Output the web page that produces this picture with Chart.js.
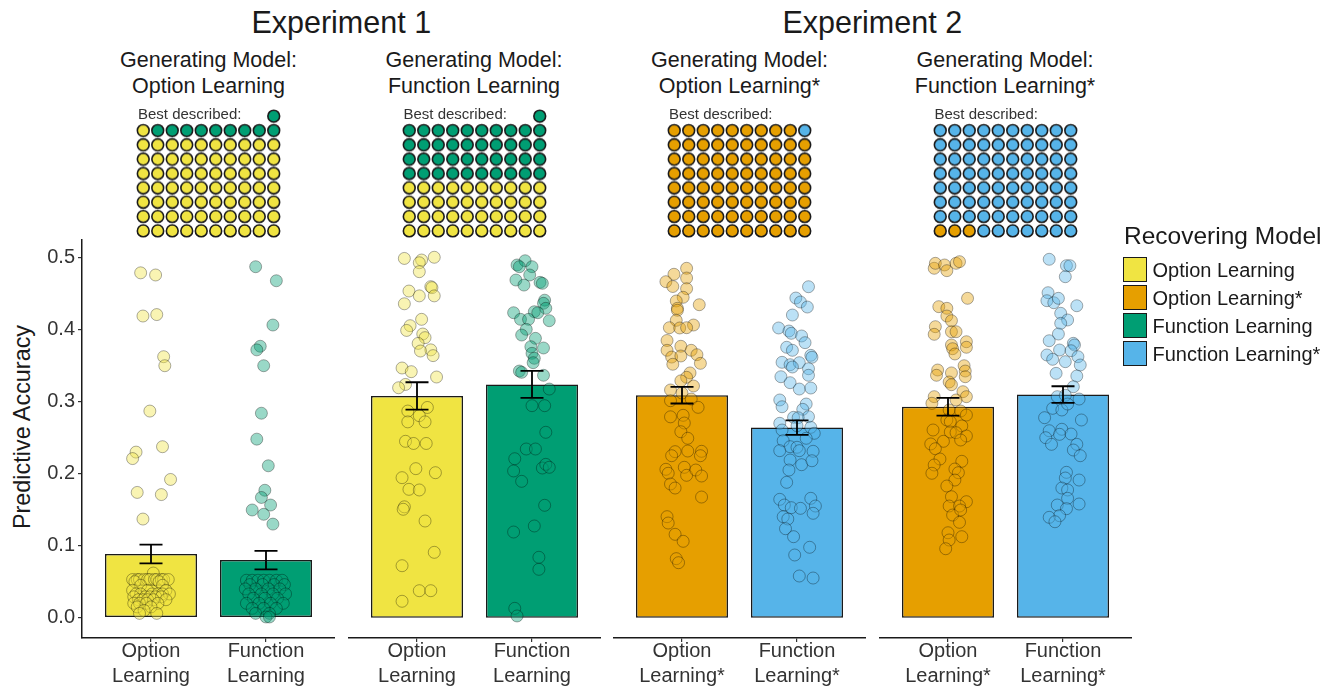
<!DOCTYPE html>
<html>
<head>
<meta charset="utf-8">
<script src="https://cdn.jsdelivr.net/npm/chart.js@4.4.1/dist/chart.umd.min.js"></script>
<style>
  html, body { margin: 0; padding: 0; background: #fff; }
  #page { position: relative; width: 1331px; height: 688px; overflow: hidden;
          font-family: "Liberation Sans", Arial, sans-serif; color: #1a1a1a; }
  #page canvas { position: absolute; }
  .txt { position: absolute; white-space: nowrap; line-height: 1; transform: translate(-50%, -50%); }
  .left { transform: translate(0, -50%); }
  .key { position: absolute; width: 22px; height: 23px; border: 1.3px solid #1a1a1a; }
</style>
</head>
<body>
<div id="page"></div>
<script>
// ---------- data ----------
const experiments = ['Experiment 1', 'Experiment 2'];
const generatingModels = ['Option Learning', 'Function Learning', 'Option Learning*', 'Function Learning*'];
const recoveringTicks = [
  [['Option', 'Learning'], ['Function', 'Learning']],
  [['Option', 'Learning'], ['Function', 'Learning']],
  [['Option', 'Learning*'], ['Function', 'Learning*']],
  [['Option', 'Learning*'], ['Function', 'Learning*']]
];
const legendLabels = ['Option Learning', 'Option Learning*', 'Function Learning', 'Function Learning*'];
const yTicks = [0, 0.1, 0.2, 0.3, 0.4, 0.5];

// mean predictive accuracy and standard error, [option, function] per panel
const meanAccuracy = [[0.0885, 0.080], [0.308, 0.324], [0.309, 0.264], [0.293, 0.310]];
const seAccuracy   = [[0.013, 0.0128], [0.019, 0.0188], [0.0115, 0.010], [0.0122, 0.0115]];

// how many simulated participants each recovering model describes best
const bestOptionCount   = [71, 40, 79, 3];
const bestFunctionCount = [10, 41, 1, 77];

// individual participants: [accuracy, horizontal jitter in category units]
const p1Option = [
  [0.479,-0.09],[0.476,0.04],[0.419,-0.07],[0.421,0.05],[0.3625,0.11],[0.350,0.12],[0.287,-0.01],
  [0.230,-0.13],[0.221,-0.16],[0.2375,0.10],[0.192,0.17],[0.174,-0.12],[0.171,0.09],[0.137,-0.07],
  [0.062,0.02],
  [0.053,-0.16],[0.053,-0.12],[0.053,-0.10],[0.053,-0.06],[0.053,-0.03],[0.053,-0.01],[0.053,0.03],
  [0.053,0.05],[0.053,0.09],[0.053,0.11],[0.053,0.15],
  [0.050,-0.14],[0.050,0.07],[0.045,-0.09],[0.045,0.10],
  [0.038,-0.16],[0.038,-0.03],[0.038,0.13],
  [0.033,-0.13],[0.033,-0.09],[0.033,0.01],[0.033,0.06],[0.033,0.10],[0.033,0.16],
  [0.029,-0.15],[0.029,-0.05],[0.029,-0.01],[0.029,0.04],[0.029,0.09],
  [0.025,-0.11],[0.025,-0.07],[0.025,-0.03],[0.025,0.02],[0.025,0.13],
  [0.020,-0.15],[0.020,-0.10],[0.020,-0.04],[0.020,0.06],
  [0.015,-0.12],[0.015,0.00],[0.010,-0.06],[0.006,-0.10],[0.006,0.05]
];
const p1Function = [
  [0.4875,-0.09],[0.468,0.09],[0.4065,0.06],[0.377,-0.05],[0.372,-0.08],[0.350,-0.02],[0.284,-0.04],
  [0.248,-0.08],[0.211,0.02],[0.177,-0.01],[0.167,-0.04],[0.1565,0.04],[0.1496,-0.12],[0.1436,-0.02],
  [0.130,0.06],
  [0.052,-0.17],[0.052,-0.12],[0.052,-0.07],[0.052,-0.02],[0.052,0.03],[0.052,0.09],[0.052,0.14],
  [0.046,-0.14],[0.046,-0.03],[0.046,0.07],[0.046,0.16],
  [0.040,-0.18],[0.040,-0.09],[0.040,0.02],[0.040,0.12],
  [0.033,-0.15],[0.033,-0.04],[0.033,0.06],[0.033,0.17],
  [0.027,-0.11],[0.027,-0.01],[0.027,0.10],
  [0.020,-0.17],[0.020,-0.06],[0.020,0.04],[0.020,0.15],
  [0.013,-0.12],[0.013,-0.02],[0.013,0.09],
  [0.006,-0.09],[0.006,0.03],[0.001,0.00],[0.001,0.03]
];
const p2Option = [
  [0.499,-0.11],[0.5006,0.15],[0.4968,0.04],[0.493,0.02],[0.4806,0.02],[0.4537,-0.07],[0.4598,0.12],
  [0.4584,0.13],[0.447,0.02],[0.447,0.15],[0.436,-0.11],[0.4144,0.04],[0.4056,-0.06],[0.399,-0.09],
  [0.394,0.05],[0.389,0.07],[0.381,0.01],[0.372,0.12],[0.3704,0.03],[0.364,0.14],[0.3468,-0.13],
  [0.3417,-0.05],[0.3343,0.17],[0.324,-0.10],[0.3194,-0.16],[0.287,-0.08],[0.292,0.09],[0.2806,0.02],
  [0.272,-0.08],[0.272,0.07],[0.245,-0.10],[0.242,-0.03],[0.242,0.08],[0.207,-0.01],[0.1945,-0.13],
  [0.2014,0.16],[0.1783,-0.07],[0.1774,0.02],[0.154,-0.11],[0.1506,-0.12],[0.1343,0.07],[0.0908,0.15],
  [0.0722,-0.13],[0.0375,0.02],[0.0375,0.12],[0.0228,-0.13]
];
const p2Function = [
  [0.4899,-0.13],[0.4958,-0.06],[0.4875,-0.11],[0.4875,0.00],[0.476,-0.02],[0.469,-0.14],[0.462,-0.07],
  [0.4658,0.07],[0.4644,0.09],[0.441,0.11],[0.4367,0.10],[0.4297,0.12],[0.4236,-0.16],[0.425,0.02],
  [0.4236,0.05],[0.4144,-0.10],[0.4144,-0.03],[0.4125,0.15],[0.4005,-0.05],[0.3926,-0.09],[0.388,0.03],
  [0.3764,-0.01],[0.3746,0.10],[0.3672,0.00],[0.3603,0.02],[0.3542,0.01],[0.3426,-0.11],[0.3408,-0.09],
  [0.3367,0.10],[0.3176,0.15],[0.2945,0.00],[0.2945,0.11],[0.2575,0.12],[0.2343,-0.05],[0.2343,0.03],
  [0.2208,-0.15],[0.2038,-0.16],[0.1894,-0.09],[0.2079,0.09],[0.213,0.12],[0.2089,0.15],[0.1561,0.11],
  [0.1274,0.02],[0.119,-0.16],[0.0839,0.06],[0.0672,0.06],[0.013,-0.15],[0.0024,-0.13]
];
const p3Option = [
  [0.4853,0.04],[0.477,-0.07],[0.4667,-0.14],[0.4718,0.04],[0.460,-0.08],[0.457,0.04],[0.445,0.01],
  [0.4399,-0.05],[0.4347,0.15],[0.4297,-0.04],[0.427,-0.04],[0.413,-0.05],[0.4065,0.10],[0.4028,-0.11],
  [0.4024,-0.02],[0.4028,0.04],[0.385,-0.13],[0.377,-0.01],[0.3714,-0.13],[0.3714,0.08],[0.362,-0.09],
  [0.3635,-0.01],[0.3653,0.13],[0.352,-0.08],[0.3533,0.16],[0.340,0.07],[0.3339,0.04],[0.329,-0.01],
  [0.3218,0.10],[0.3163,-0.10],[0.312,0.00],[0.3014,-0.10],[0.3037,0.08],[0.2922,0.14],[0.279,-0.10],
  [0.2811,0.01],[0.2704,0.02],[0.2583,-0.01],[0.2492,0.05],[0.2306,-0.06],[0.225,-0.09],[0.2315,0.05],
  [0.2311,0.17],[0.225,0.16],[0.2061,-0.14],[0.2006,-0.12],[0.2089,0.02],[0.1978,0.04],[0.2051,0.12],
  [0.1968,0.17],[0.1857,-0.10],[0.1801,-0.06],[0.1676,0.17],[0.1403,-0.13],[0.1315,-0.12],[0.1158,-0.06],
  [0.1061,0.01],[0.082,-0.05],[0.0764,-0.03]
];
const p3Function = [
  [0.4597,0.10],[0.444,-0.01],[0.4385,0.03],[0.4315,0.09],[0.4204,-0.04],[0.4024,-0.16],[0.3982,-0.07],
  [0.395,-0.05],[0.3913,0.04],[0.382,0.07],[0.3756,-0.09],[0.3714,-0.04],[0.3644,0.12],[0.3617,0.13],
  [0.3547,-0.13],[0.3514,-0.06],[0.3542,0.02],[0.3482,-0.04],[0.3458,0.10],[0.3347,-0.14],[0.3367,0.10],
  [0.3264,-0.06],[0.3176,0.02],[0.319,0.12],[0.3024,-0.15],[0.293,-0.13],[0.2968,0.08],[0.2894,0.05],
  [0.2792,0.10],[0.2783,-0.03],[0.27,-0.15],[0.2778,0.01],[0.2607,-0.13],[0.2667,0.00],[0.2644,0.12],
  [0.2561,0.15],[0.2492,0.08],[0.2458,-0.12],[0.2375,-0.06],[0.2367,0.00],[0.232,-0.15],[0.232,0.02],
  [0.2311,0.14],[0.219,-0.06],[0.2125,0.04],[0.218,0.13],[0.2051,-0.07],[0.188,-0.09],[0.1644,-0.15],
  [0.1565,-0.11],[0.1528,-0.05],[0.1519,0.03],[0.1658,0.12],[0.1551,0.16],[0.145,0.14],[0.1403,-0.12],
  [0.1371,-0.08],[0.1236,-0.10],[0.1125,-0.03],[0.0978,0.11],[0.0871,-0.02],[0.0579,0.02],[0.0551,0.14]
];
const p4Option = [
  [0.4853,-0.12],[0.4922,-0.11],[0.4899,-0.03],[0.482,-0.01],[0.4922,0.07],[0.4945,0.10],[0.4436,0.17],
  [0.432,-0.08],[0.4297,-0.01],[0.419,-0.01],[0.4125,0.03],[0.4042,-0.11],[0.3936,-0.12],[0.3972,0.03],
  [0.3972,0.07],[0.3833,0.16],[0.3788,0.03],[0.3736,0.04],[0.3756,0.16],[0.3663,0.06],[0.344,-0.09],
  [0.3367,-0.10],[0.340,0.03],[0.350,0.14],[0.3426,0.15],[0.3347,0.15],[0.3274,0.01],[0.3236,0.03],
  [0.3139,0.13],[0.307,0.16],[0.307,-0.12],[0.2978,-0.14],[0.3024,0.07],[0.2885,0.01],[0.2871,0.11],
  [0.2815,0.16],[0.2746,-0.01],[0.2722,0.02],[0.2663,0.12],[0.2607,-0.13],[0.2579,0.02],[0.257,0.07],
  [0.2524,0.16],[0.2468,0.11],[0.245,-0.04],[0.2413,-0.15],[0.2347,-0.11],[0.2204,-0.07],[0.2172,0.12],
  [0.2121,-0.12],[0.2006,-0.14],[0.2065,0.06],[0.2014,0.09],[0.1912,0.06],[0.1829,-0.01],[0.168,0.03],
  [0.1611,0.16],[0.1551,0.01],[0.1551,0.10],[0.1426,0.04],[0.1496,0.11],[0.1325,0.10],[0.118,0.00],
  [0.1125,0.12],[0.1079,0.01],[0.0958,-0.02]
];
const p4Function = [
  [0.4978,-0.12],[0.4889,0.03],[0.4889,0.06],[0.4736,0.02],[0.4514,-0.13],[0.4403,-0.14],[0.4375,-0.08],
  [0.4436,-0.04],[0.4333,0.12],[0.4228,-0.02],[0.4135,0.04],[0.4089,-0.02],[0.394,-0.04],[0.3847,-0.12],
  [0.3811,0.09],[0.3788,0.10],[0.3718,-0.03],[0.3708,0.07],[0.3649,-0.14],[0.3589,-0.09],[0.3556,0.02],
  [0.3625,0.13],[0.351,0.15],[0.3394,-0.06],[0.3357,0.12],[0.3208,0.09],[0.307,-0.05],[0.3089,0.02],
  [0.3037,0.14],[0.2908,-0.09],[0.2885,-0.01],[0.2968,0.04],[0.2778,-0.16],[0.2746,0.16],[0.2597,-0.12],
  [0.2617,-0.01],[0.2547,-0.03],[0.2551,0.07],[0.25,-0.15],[0.2408,-0.10],[0.2408,0.12],[0.2329,0.09],
  [0.225,0.15],[0.2019,0.03],[0.194,0.02],[0.1912,0.14],[0.1801,-0.01],[0.1774,0.04],[0.1658,0.04],
  [0.1565,-0.05],[0.1579,0.14],[0.1514,0.03],[0.1417,-0.03],[0.1394,-0.12],[0.1333,-0.07]
];
const participants = [[p1Option, p1Function], [p2Option, p2Function], [p3Option, p3Function], [p4Option, p4Function]];

// ---------- styling ----------
const COLORS = {
  'Option Learning': '#F0E442', 'Option Learning*': '#E69F00',
  'Function Learning': '#009E73', 'Function Learning*': '#56B4E9'
};
const panelColors = [
  [COLORS['Option Learning'], COLORS['Function Learning']],
  [COLORS['Option Learning'], COLORS['Function Learning']],
  [COLORS['Option Learning*'], COLORS['Function Learning*']],
  [COLORS['Option Learning*'], COLORS['Function Learning*']]
];
function alpha(hex, a) {
  const n = parseInt(hex.slice(1), 16);
  return `rgba(${(n >> 16) & 255},${(n >> 8) & 255},${n & 255},${a})`;
}

const FONT = '"Liberation Sans", Arial, sans-serif';
const INK = '#1a1a1a';
const TICK_INK = '#333333';
const PANEL_LEFT = [82, 347.5, 613, 878.5];
const PANEL_W = 253;
const PLOT_TOP = 240, PLOT_BOTTOM = 638;
const CANVAS_TOP = 228;
const Y_MIN = -0.0282, Y_MAX = 0.5246;
const X_MIN = 0.4, X_MAX = 2.6;

const page = document.getElementById('page');
Chart.defaults.font.family = FONT;
Chart.defaults.color = TICK_INK;

function addText(text, x, y, size, opts = {}) {
  const d = document.createElement('div');
  d.className = 'txt' + (opts.left ? ' left' : '');
  d.textContent = text;
  d.style.left = x + 'px';
  d.style.top = y + 'px';
  d.style.fontSize = size + 'px';
  d.style.color = opts.color || INK;
  if (opts.rotate) d.style.transform = 'translate(-50%,-50%) rotate(-90deg)';
  page.appendChild(d);
  return d;
}
function addCanvas(left, top, w, h) {
  const c = document.createElement('canvas');
  c.width = w; c.height = h;
  c.style.left = left + 'px'; c.style.top = top + 'px';
  c.style.width = w + 'px'; c.style.height = h + 'px';
  page.appendChild(c);
  return c;
}

// error bars drawn from the mean / se arrays through the chart scales
const errorBarPlugin = {
  id: 'errorBars',
  afterDatasetsDraw(chart, args, opts) {
    const {ctx, scales: {x, y}} = chart;
    const half = (x.getPixelForValue(1 + opts.capWidth / 2) - x.getPixelForValue(1));
    ctx.save();
    ctx.strokeStyle = '#000';
    ctx.lineWidth = 1.8;
    opts.means.forEach((m, k) => {
      const cx = x.getPixelForValue(k + 1);
      const yt = y.getPixelForValue(m + opts.se[k]);
      const yb = y.getPixelForValue(m - opts.se[k]);
      ctx.beginPath();
      ctx.moveTo(cx, yt); ctx.lineTo(cx, yb);
      ctx.moveTo(cx - half, yt); ctx.lineTo(cx + half, yt);
      ctx.moveTo(cx - half, yb); ctx.lineTo(cx + half, yb);
      ctx.stroke();
    });
    ctx.restore();
  }
};

// ---------- bar panels ----------
function barPanel(p) {
  const first = p === 0;
  const left = first ? 0 : PANEL_LEFT[p];
  const width = first ? PANEL_LEFT[0] + PANEL_W : PANEL_W;
  const height = 688 - CANVAS_TOP;
  const canvas = addCanvas(left, CANVAS_TOP, width, height);
  const cols = panelColors[p];

  const datasets = [{
    type: 'bar',
    data: meanAccuracy[p].map((m, k) => ({x: k + 1, y: m})),
    backgroundColor: cols,
    borderColor: INK,
    borderWidth: 1.5,
    borderSkipped: false,
    barPercentage: 1,
    categoryPercentage: 0.8,
    order: 2
  }];
  participants[p].forEach((pts, k) => {
    datasets.push({
      type: 'scatter',
      data: pts.map(([v, dx]) => ({x: k + 1 + dx, y: v})),
      backgroundColor: alpha(cols[k], 0.4),
      borderColor: 'rgba(0,0,0,0.32)',
      borderWidth: 1,
      pointRadius: 6,
      order: 1
    });
  });

  const tickGrid = {drawOnChartArea: false, drawTicks: true, tickLength: 4, color: TICK_INK, lineWidth: 1.2, offset: false};
  new Chart(canvas, {
    type: 'bar',
    data: {datasets},
    plugins: [errorBarPlugin],
    options: {
      responsive: false,
      animation: false,
      events: [],
      layout: {autoPadding: false, padding: {top: PLOT_TOP - CANVAS_TOP, left: 0, right: 0, bottom: 0}},
      plugins: {
        legend: {display: false},
        tooltip: {enabled: false},
        errorBars: {means: meanAccuracy[p], se: seAccuracy[p], capWidth: 0.2}
      },
      scales: {
        x: {
          type: 'linear', min: X_MIN, max: X_MAX,
          offset: false, bounds: 'data',
          afterDataLimits: (s) => { s.min = X_MIN; s.max = X_MAX; },
          afterBuildTicks: (s) => { s.ticks = [{value: 1}, {value: 2}]; },
          afterFit: (s) => { s.height = 688 - PLOT_BOTTOM; s.paddingLeft = 0; s.paddingRight = 0; },
          ticks: {
            callback: (v) => recoveringTicks[p][Math.round(v) - 1],
            font: {size: 20, lineHeight: 1.25}, color: TICK_INK,
            padding: -3, maxRotation: 0, autoSkip: false
          },
          grid: tickGrid,
          border: {display: true, color: INK, width: 1.5}
        },
        y: {
          display: first,
          min: Y_MIN, max: Y_MAX,
          afterBuildTicks: (s) => { s.ticks = yTicks.map(v => ({value: v})); },
          afterFit: (s) => { s.width = first ? PANEL_LEFT[0] : 0; s.paddingTop = 0; s.paddingBottom = 0; },
          ticks: {callback: (v) => v.toFixed(1), font: {size: 20}, color: TICK_INK, padding: 3},
          grid: tickGrid,
          border: {display: true, color: INK, width: 1.5}
        }
      }
    }
  });
}

// ---------- waffle of best-described counts ----------
const W_DX = 14.5, W_DY = 14.3, W_BOTTOM = 231, W_PAD = 4;
function wafflePanel(p) {
  const cx = PANEL_LEFT[p] + PANEL_W / 2;
  const w = 10 * W_DX + 2 * W_PAD, h = 9 * W_DY + 2 * W_PAD;
  const left = cx - 5 * W_DX - W_PAD;
  const top = W_BOTTOM + W_DY / 2 - 9 * W_DY - W_PAD;
  const canvas = addCanvas(left, top, w, h);
  const total = bestOptionCount[p] + bestFunctionCount[p];
  const partial = total % 10;
  const cells = [];
  for (let m = 0; m < total; m++) {
    const row = Math.floor(m / 10);
    let col = m % 10;
    // the last, incomplete row is aligned to the right
    if (partial && row === Math.floor((total - 1) / 10)) col += 10 - partial;
    cells.push({x: col, y: row});
  }
  const cols = panelColors[p];
  new Chart(canvas, {
    type: 'scatter',
    data: {datasets: [
      {data: cells.slice(0, bestOptionCount[p]), backgroundColor: cols[0]},
      {data: cells.slice(bestOptionCount[p]), backgroundColor: cols[1]}
    ]},
    options: {
      responsive: false, animation: false, events: [],
      layout: {autoPadding: false, padding: W_PAD},
      elements: {point: {radius: 5.9, borderWidth: 1.6, borderColor: INK}},
      plugins: {legend: {display: false}, tooltip: {enabled: false}},
      scales: {
        x: {display: false, min: -0.5, max: 9.5},
        y: {display: false, min: -0.5, max: 8.5}
      }
    }
  });
  addText('Best described:', cx - 5 * W_DX + 2, 113, 15, {left: true, color: '#333'});
}

// ---------- titles ----------
experiments.forEach((t, e) => {
  const l = PANEL_LEFT[2 * e], r = PANEL_LEFT[2 * e + 1] + PANEL_W;
  addText(t, (l + r) / 2, 22, 30.5);
});
generatingModels.forEach((g, p) => {
  const cx = PANEL_LEFT[p] + PANEL_W / 2;
  addText('Generating Model:', cx, 61, 21.5);
  addText(g, cx, 86.5, 21.5);
});
addText('Predictive Accuracy', 23, 427, 23.4, {rotate: true});

for (let p = 0; p < 4; p++) { barPanel(p); wafflePanel(p); }

// ---------- legend ----------
addText('Recovering Model', 1124, 236, 24.5, {left: true});
legendLabels.forEach((lab, i) => {
  const k = document.createElement('div');
  k.className = 'key';
  k.style.left = '1123px';
  k.style.top = (257 + i * 28) + 'px';
  k.style.background = COLORS[lab];
  page.appendChild(k);
  addText(lab, 1152.5, 269.5 + i * 28, 20, {left: true});
});
</script>
</body>
</html>
